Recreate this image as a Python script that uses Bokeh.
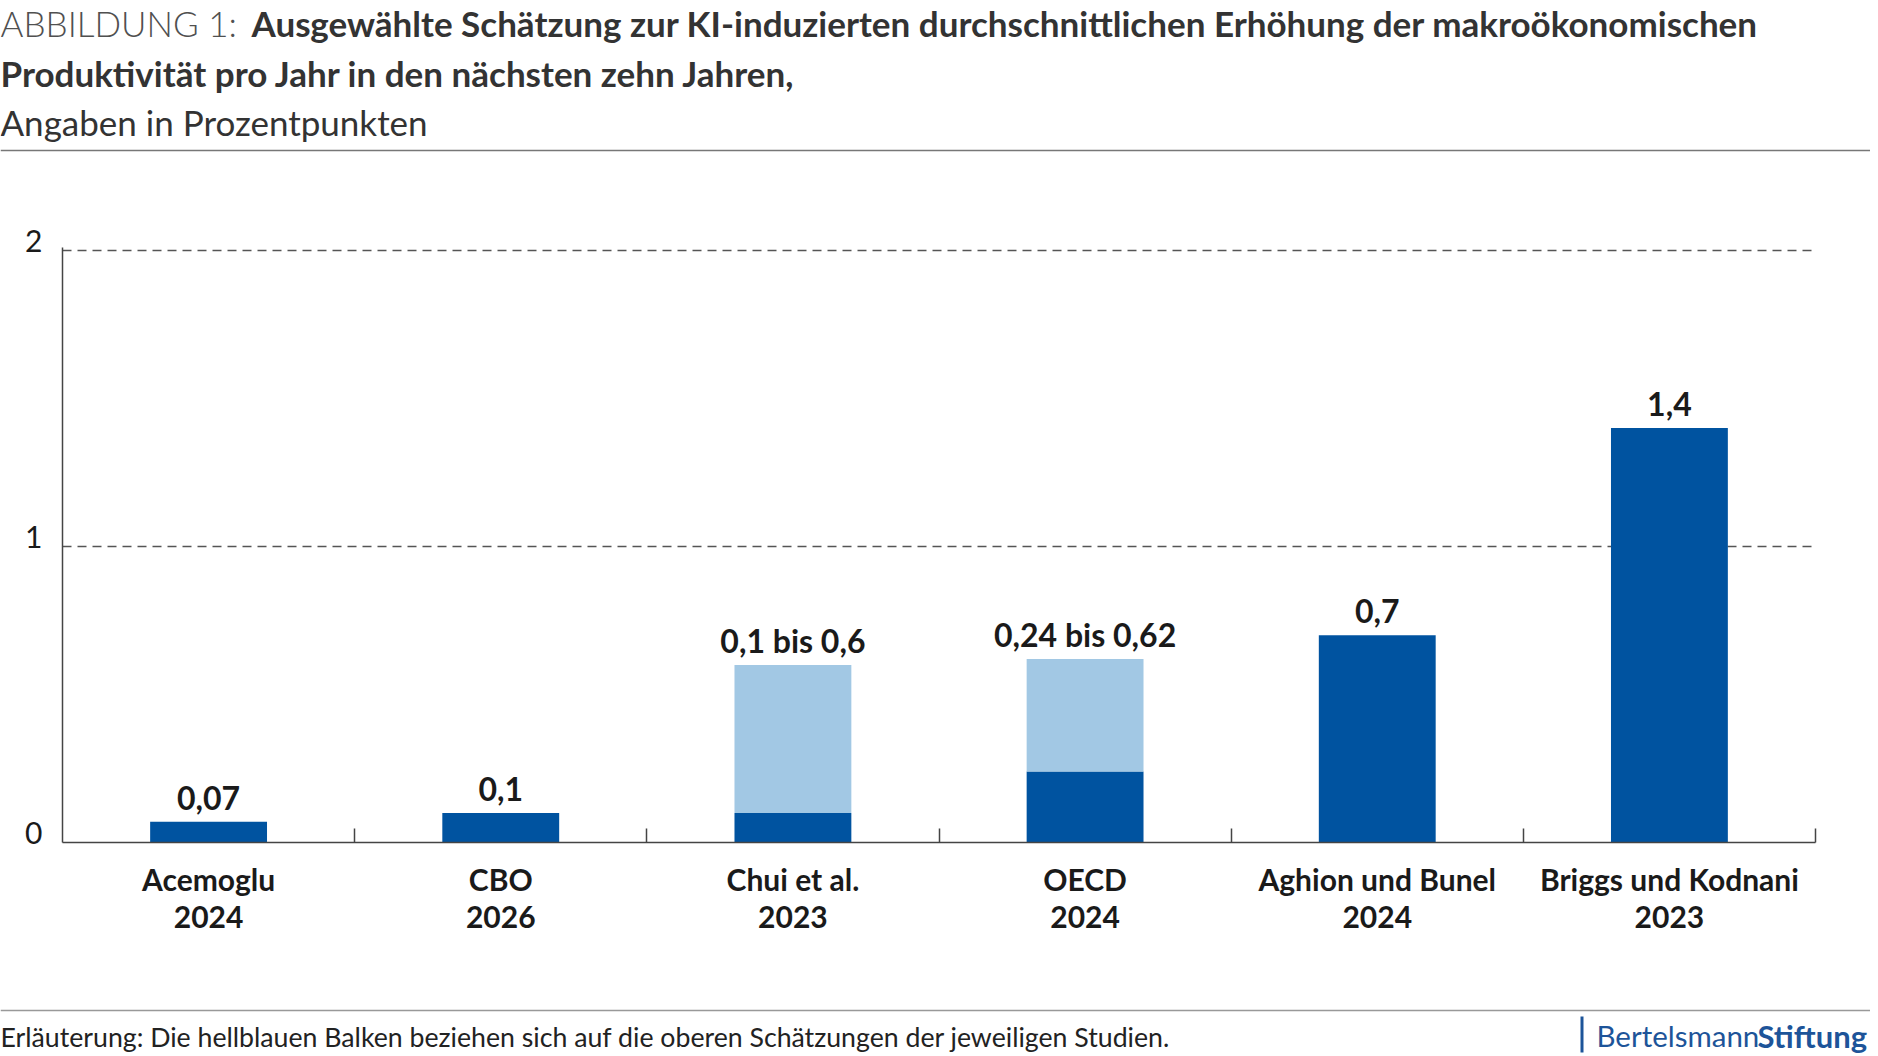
from bokeh.plotting import figure
from bokeh.layouts import column
from bokeh.models import Range1d, FixedTicker, Label, BoxAnnotation, ColumnDataSource, Span
from bokeh.core.properties import value
from bokeh.embed import file_html
from bokeh.resources import INLINE

# ---- data ----
categories = ["Acemoglu\n2024", "CBO\n2026", "Chui et al.\n2023", "OECD\n2024",
              "Aghion und Bunel\n2024", "Briggs und Kodnani\n2023"]
lower_estimate = [0.07, 0.1, 0.1, 0.24, 0.7, 1.4]
upper_estimate = [None, None, 0.6, 0.62, None, None]
value_labels = ["0,07", "0,1", "0,1 bis 0,6", "0,24 bis 0,62", "0,7", "1,4"]
y_ticks = [0, 1, 2]
y_tick_labels = ["0", "1", "2"]
grid_values = [1, 2]

title_prefix = "ABBILDUNG 1:"
title_line1 = "Ausgewählte Schätzung zur KI-induzierten durchschnittlichen Erhöhung der makroökonomischen"
title_line2 = "Produktivität pro Jahr in den nächsten zehn Jahren,"
subtitle = "Angaben in Prozentpunkten"
footnote = "Erläuterung: Die hellblauen Balken beziehen sich auf die oberen Schätzungen der jeweiligen Studien."
logo_regular = "Bertelsmann"
logo_bold = "Stiftung"

DARK = "#0053a0"
LIGHT = "#a2c8e4"
TXT = "#1a1a1a"
LOGO = "#1d5499"
FONT = "Lato"

W = 1870
HH, MH, FH = 152, 848, 54          # header, main, footer heights
FL, FR = 62, 1815                  # frame left / right
FT, FB = 95, 690                   # frame top / bottom inside main figure


def no_align(f):
    try:
        f.frame_align = False
    except Exception:
        pass


def blank(height):
    f = figure(width=W, height=height, x_range=Range1d(0, W), y_range=Range1d(0, height),
               x_axis_type=None, y_axis_type=None, output_backend="svg",
               toolbar_location=None, min_border=0)
    f.outline_line_color = None
    f.xgrid.visible = False
    f.ygrid.visible = False
    f.title.visible = False
    no_align(f)
    return f


def lab(f, height, text, x, y, size, style="normal", color="#333333", font=FONT):
    f.add_layout(Label(x=x, y=height - y, text=text, text_font=font,
                       text_font_size=size, text_font_style=style,
                       text_color=color, text_align="left", text_baseline="middle"))


# ---- header ----
head = blank(HH)
lab(head, HH, title_prefix, 0, 22, "35px", color="#505050", font="Lato Light")
lab(head, HH, title_line1, 251, 22, "35px", style="bold", color="#333333")
lab(head, HH, title_line2, 0, 72, "35px", style="bold", color="#333333")
lab(head, HH, subtitle, 0, 121, "35px", color="#333333")
head.add_layout(Span(location=HH - 150, dimension="width", line_color="#777777", line_width=1.5))

# ---- main chart ----
n = len(categories)
pos = [i + 0.5 for i in range(n)]

p = figure(width=W, height=MH, x_range=Range1d(0, n), y_range=Range1d(0, 2.01),
           output_backend="svg", toolbar_location=None,
           min_border_left=FL, min_border_right=W - FR,
           min_border_top=FT, min_border_bottom=MH - FB)
p.outline_line_color = None
p.title.visible = False
no_align(p)

dark_src = ColumnDataSource(dict(x=pos, top=lower_estimate))
p.vbar(x="x", top="top", bottom=0, width=0.4, source=dark_src,
       fill_color=DARK, line_color=None)
lx = [pos[i] for i in range(n) if upper_estimate[i] is not None]
lb = [lower_estimate[i] for i in range(n) if upper_estimate[i] is not None]
lt = [upper_estimate[i] for i in range(n) if upper_estimate[i] is not None]
light_src = ColumnDataSource(dict(x=lx, bottom=lb, top=lt))
p.vbar(x="x", top="top", bottom="bottom", width=0.4, source=light_src,
       fill_color=LIGHT, line_color=None)

label_y = [upper_estimate[i] if upper_estimate[i] is not None else lower_estimate[i] for i in range(n)]
lab_src = ColumnDataSource(dict(x=pos, y=label_y, t=value_labels))
p.text(x="x", y="y", text="t", source=lab_src, y_offset=-24,
       text_align="center", text_baseline="middle",
       text_font=value(FONT), text_font_style="bold", text_font_size="32px",
       text_color=TXT)

p.xaxis.ticker = FixedTicker(ticks=pos, minor_ticks=list(range(1, n + 1)))
p.xaxis.major_label_overrides = {pos[i]: categories[i] for i in range(n)}
p.xaxis.major_tick_line_color = None
p.xaxis.minor_tick_line_color = "#444444"
p.xaxis.minor_tick_line_width = 1.5
p.xaxis.minor_tick_in = 14
p.xaxis.minor_tick_out = 0
p.xaxis.axis_line_color = "#444444"
p.xaxis.axis_line_width = 1.5
p.xaxis.major_label_text_font = FONT
p.xaxis.major_label_text_font_style = "bold"
p.xaxis.major_label_text_font_size = "30px"
p.xaxis.major_label_text_line_height = 1.03
p.xaxis.major_label_text_color = TXT
p.xaxis.major_label_standoff = 12

p.yaxis.ticker = FixedTicker(ticks=y_ticks)
# a trailing empty line lifts each number slightly above its gridline, as in the original
p.yaxis.major_label_overrides = {y_ticks[i]: y_tick_labels[i] + "\n" for i in range(len(y_ticks))}
p.yaxis.major_label_text_line_height = 0.58
p.yaxis.major_tick_line_color = None
p.yaxis.minor_tick_line_color = None
p.yaxis.axis_line_color = "#444444"
p.yaxis.axis_line_width = 1.5
p.yaxis.major_label_text_font = FONT
p.yaxis.major_label_text_font_size = "30px"
p.yaxis.major_label_text_color = TXT
p.yaxis.major_label_standoff = 14

p.xgrid.grid_line_color = None
p.ygrid.ticker = FixedTicker(ticks=grid_values)
p.ygrid.grid_line_color = "#555555"
p.ygrid.grid_line_width = 1.5
p.ygrid.grid_line_dash = "9 6"

# ---- footer ----
foot = blank(FH)
foot.add_layout(Span(location=FH - 10, dimension="width", line_color="#999999", line_width=1.5))
lab(foot, FH, footnote, 0, 36, "26.7px", color="#222222")
foot.add_layout(BoxAnnotation(left=1580, right=1583, top=FH - 16, bottom=FH - 52,
                              fill_color=LOGO, fill_alpha=1.0, line_color=None))
lab(foot, FH, logo_regular, 1596, 35, "29.5px", color=LOGO)
lab(foot, FH, logo_bold, 1757, 35, "31px", style="bold", color=LOGO)

layout = column(head, p, foot, spacing=0)
open("out.html", "w").write(file_html(layout, INLINE))
